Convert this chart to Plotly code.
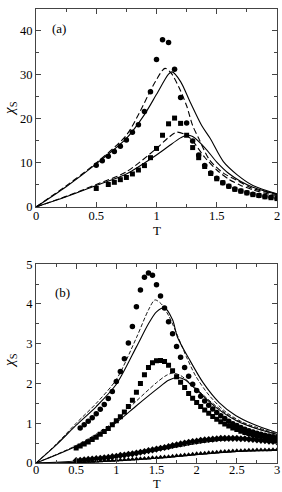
import plotly.graph_objects as go

# ---------------- Panel (a) data ----------------
Ta_circ = [0.5,0.55,0.6,0.65,0.7,0.75,0.8,0.85,0.9,0.95,1.0,1.05,1.1,1.15,1.2,1.25,1.3,1.35,1.4,1.45,
           1.5,1.55,1.6,1.65,1.7,1.75,1.8,1.85,1.9,1.95,2.0]
a_circ = [9.5,10.5,11.5,12.6,13.8,15.2,17.0,18.7,21.7,26.2,33.5,38.0,37.4,31.3,24.9,19.1,15.0,11.8,9.4,7.7,
          6.5,5.5,4.7,4.1,3.6,3.2,2.9,2.6,2.4,2.2,2.0]
Ta_sq = [0.5,0.6,0.65,0.7,0.75,0.8,0.85,0.9,0.95,1.0,1.05,1.1,1.15,1.2,1.25,1.3,1.35,1.4,1.45,
         1.5,1.55,1.6,1.65,1.7,1.75,1.8,1.85,1.9,1.95,2.0]
a_sq = [4.2,5.1,5.6,6.2,6.7,7.5,8.4,9.4,11.2,13.3,16.3,18.9,20.2,19.0,16.3,13.5,11.2,9.2,7.6,
        6.4,5.5,4.7,4.0,3.6,3.2,2.8,2.6,2.3,2.1,1.9]

Ta_up_solid = [0,0.25,0.5,0.75,0.9,1.0,1.1,1.13,1.2,1.28,1.375,1.445,1.555,1.67,1.8,2.0]
a_up_solid = [0,4.6,9.8,15.6,21.0,25.6,30.2,30.7,28.5,23.8,18.5,15.6,10.3,7.3,4.9,3.0]
Ta_up_dash = [0,0.25,0.5,0.75,0.86,0.97,1.07,1.12,1.19,1.25,1.3,1.35,1.44,1.555,1.67,1.8,2.0]
a_up_dash = [0,4.8,10.0,16.3,21.5,27.5,31.5,30.5,27.0,23.0,18.5,15.6,10.7,7.7,6.0,4.2,2.8]
Ta_lo_solid = [0,0.25,0.5,0.75,1.0,1.1,1.2,1.25,1.3,1.4,1.5,1.6,1.7,1.8,1.9,2.0]
a_lo_solid = [0,2.3,4.9,7.5,11.8,13.8,15.7,16.3,16.0,13.5,10.2,7.6,5.8,4.5,3.6,2.9]
Ta_lo_dash = [0,0.25,0.5,0.75,1.0,1.1,1.17,1.25,1.3,1.4,1.5,1.6,1.7,1.8,1.9,2.0]
a_lo_dash = [0,2.4,5.1,8.0,13.3,15.8,17.0,16.3,15.0,11.3,8.4,6.3,4.9,3.9,3.1,2.6]

# ---------------- Panel (b) data ----------------
Tb_circ = [0.55,0.6,0.65,0.7,0.75,0.8,0.85,0.9,0.95,1.0,1.05,1.1,1.15,1.2,1.25,1.3,1.35,1.4,1.45,1.5,
           1.55,1.6,1.65,1.7,1.75,1.8,1.85,1.9,1.95,2.0,2.05,2.1,2.15,2.2,2.25,2.3,2.35,2.4,2.45,2.5,
           2.55,2.6,2.65,2.7,2.75,2.8,2.85,2.9,2.95,3.0]
b_circ = [0.88,0.96,1.05,1.14,1.24,1.35,1.47,1.62,1.80,2.05,2.30,2.62,3.02,3.43,3.93,4.35,4.67,4.78,4.72,4.48,
          4.20,3.90,3.55,3.25,2.93,2.66,2.40,2.18,1.98,1.82,1.68,1.56,1.45,1.36,1.27,1.19,1.12,1.05,0.99,0.94,
          0.89,0.85,0.81,0.78,0.75,0.72,0.70,0.68,0.66,0.64]
Tb_sq = [0.5,0.55,0.6,0.65,0.7,0.75,0.8,0.85,0.9,0.95,1.0,1.05,1.1,1.15,1.2,1.25,1.3,1.35,1.4,1.45,
         1.5,1.55,1.6,1.65,1.7,1.75,1.8,1.85,1.9,1.95,2.0,2.05,2.1,2.15,2.2,2.25,2.3,2.35,2.4,2.45,
         2.5,2.55,2.6,2.65,2.7,2.75,2.8,2.85,2.9,2.95,3.0]
b_sq = [0.38,0.43,0.48,0.53,0.59,0.65,0.72,0.79,0.87,0.96,1.06,1.16,1.28,1.42,1.58,1.78,2.00,2.22,2.40,2.52,
        2.57,2.58,2.55,2.46,2.32,2.17,2.03,1.90,1.75,1.63,1.52,1.42,1.33,1.25,1.17,1.10,1.04,0.98,0.93,0.88,
        0.84,0.80,0.77,0.74,0.71,0.69,0.67,0.65,0.63,0.61,0.60]
b_dia = [0.06,0.07,0.08,0.09,0.10,0.11,0.12,0.13,0.14,0.16,0.17,0.19,0.20,0.22,0.23,0.25,0.27,0.29,0.31,0.33,
         0.35,0.37,0.39,0.41,0.44,0.46,0.48,0.50,0.52,0.54,0.55,0.57,0.58,0.59,0.60,0.61,0.62,0.62,0.62,0.62,
         0.62,0.61,0.61,0.60,0.59,0.58,0.57,0.56,0.55,0.54,0.53]
b_tri = [0.02,0.025,0.03,0.035,0.04,0.045,0.05,0.055,0.06,0.065,0.07,0.075,0.08,0.088,0.095,0.10,0.11,0.115,0.12,0.13,
         0.135,0.145,0.15,0.16,0.17,0.18,0.19,0.20,0.21,0.22,0.23,0.24,0.245,0.255,0.265,0.27,0.28,0.29,0.295,0.30,
         0.305,0.31,0.315,0.32,0.322,0.325,0.327,0.33,0.33,0.332,0.333]

Tb_up_solid = [0,0.25,0.5,0.75,1.0,1.25,1.4,1.5,1.6,1.7,1.76,1.91,2.08,2.28,2.49,2.7,3.0]
b_up_solid = [0,0.45,0.95,1.42,1.98,2.92,3.5,3.8,3.9,3.6,3.17,2.6,2.02,1.52,1.19,0.98,0.76]
Tb_up_dash = [0,0.25,0.5,0.75,1.0,1.25,1.4,1.48,1.56,1.66,1.76,1.87,1.99,2.16,2.37,2.58,3.0]
b_up_dash = [0,0.47,1.0,1.5,2.1,3.15,3.85,4.1,4.0,3.67,3.21,2.68,2.18,1.69,1.27,1.02,0.74]
Tb_lo_solid = [0,0.25,0.5,0.75,1.0,1.25,1.5,1.65,1.76,1.85,1.99,2.24,2.49,2.75,3.0]
b_lo_solid = [0,0.2,0.42,0.7,1.02,1.44,1.85,2.08,2.15,2.1,1.85,1.4,1.07,0.86,0.72]
Tb_lo_dash = [0,0.25,0.5,0.75,1.0,1.25,1.5,1.62,1.7,1.8,1.95,2.2,2.45,2.7,3.0]
b_lo_dash = [0,0.21,0.44,0.73,1.08,1.56,2.02,2.2,2.26,2.2,1.95,1.5,1.13,0.9,0.72]
Tb_3_solid = [0,0.5,1.0,1.5,2.0,2.25,2.5,2.75,3.0]
b_3_solid = [0,0.05,0.15,0.31,0.49,0.56,0.59,0.59,0.56]
Tb_4_solid = [0,0.5,1.0,1.5,2.0,2.5,3.0]
b_4_solid = [0,0.015,0.06,0.12,0.21,0.29,0.33]

Tb_all = [round(0.5 + 0.05 * i, 2) for i in range(51)]

xa_ticks = [0, 0.5, 1, 1.5, 2]
xa_text = ["0", "0.5", "1", "1.5", "2"]
ya_ticks = [0, 10, 20, 30, 40]
ya_text = ["0", "10", "20", "30", "40"]
xb_ticks = [0, 0.5, 1, 1.5, 2, 2.5, 3]
xb_text = ["0", "0.5", "1", "1.5", "2", "2.5", "3"]
yb_ticks = [0, 1, 2, 3, 4, 5]
yb_text = ["0", "1", "2", "3", "4", "5"]

FONT = "Liberation Serif, Times New Roman, serif"
AX = "#444444"

fig = go.Figure()

def mk(x, y, sym, size, xa, ya):
    fig.add_trace(go.Scatter(x=x, y=y, mode="markers", xaxis=xa, yaxis=ya,
                             marker=dict(symbol=sym, size=size, color="black", line=dict(width=0)),
                             showlegend=False, hoverinfo="skip"))

def ln(x, y, dash, xa, ya, w=1.1):
    fig.add_trace(go.Scatter(x=x, y=y, mode="lines", xaxis=xa, yaxis=ya,
                             line=dict(color="black", width=w, dash=dash, shape="spline", smoothing=0.8),
                             showlegend=False, hoverinfo="skip"))

# panel (a)
ln(Ta_up_solid, a_up_solid, "solid", "x", "y")
ln(Ta_up_dash, a_up_dash, "6px,3px", "x", "y")
ln(Ta_lo_solid, a_lo_solid, "solid", "x", "y")
ln(Ta_lo_dash, a_lo_dash, "6px,3px", "x", "y")
mk(Ta_circ, a_circ, "circle", 5.5, "x", "y")
mk(Ta_sq, a_sq, "square", 5, "x", "y")

# panel (b)
ln(Tb_up_solid, b_up_solid, "solid", "x2", "y2")
ln(Tb_up_dash, b_up_dash, "4px,2px", "x2", "y2", 0.9)
ln(Tb_lo_solid, b_lo_solid, "solid", "x2", "y2")
ln(Tb_lo_dash, b_lo_dash, "4px,2px", "x2", "y2", 0.9)
ln(Tb_3_solid, b_3_solid, "solid", "x2", "y2")
ln(Tb_4_solid, b_4_solid, "solid", "x2", "y2")
mk(Tb_circ, b_circ, "circle", 5.5, "x2", "y2")
mk(Tb_sq, b_sq, "square", 5, "x2", "y2")
mk(Tb_all, b_dia, "diamond", 5.5, "x2", "y2")
mk(Tb_all, b_tri, "triangle-up", 5, "x2", "y2")

axis_common = dict(showgrid=False, zeroline=False, showline=True, linecolor=AX, linewidth=1,
                   mirror="allticks", ticks="inside", ticklen=5, tickwidth=1, tickcolor=AX,
                   ticklabeloverflow="allow",
                   tickfont=dict(family=FONT, size=12.5, color="black"))

fig.update_layout(
    width=282, height=492,
    margin=dict(l=36, r=5, t=2, b=29),
    paper_bgcolor="white", plot_bgcolor="white",
    font=dict(family=FONT, size=13, color="black"),
    xaxis=dict(axis_common, domain=[0, 1], anchor="y", range=[0, 2],
               tickvals=xa_ticks, ticktext=xa_text,
               minor=dict(dtick=0.25, ticklen=3, tickcolor=AX, ticks="inside")),
    yaxis=dict(axis_common, domain=[0.564, 1], anchor="x", range=[0, 45],
               tickvals=ya_ticks, ticktext=ya_text,
               minor=dict(dtick=5, ticklen=3, tickcolor=AX, ticks="inside")),
    xaxis2=dict(axis_common, domain=[0, 1], anchor="y2", range=[0, 3],
                tickvals=xb_ticks, ticktext=xb_text,
                minor=dict(dtick=0.25, ticklen=3, tickcolor=AX, ticks="inside")),
    yaxis2=dict(axis_common, domain=[0, 0.438], anchor="x2", range=[0, 5],
                tickvals=yb_ticks, ticktext=yb_text,
                minor=dict(dtick=0.5, ticklen=3, tickcolor=AX, ticks="inside")),
    annotations=[
        dict(text="(a)", x=0.19, y=40.5, xref="x", yref="y", showarrow=False,
             font=dict(family=FONT, size=13)),
        dict(text="(b)", x=0.33, y=4.29, xref="x2", yref="y2", showarrow=False,
             font=dict(family=FONT, size=13)),
        dict(text="T", x=0.5, y=0.4924, xref="paper", yref="paper", showarrow=False,
             xanchor="center", yanchor="bottom", borderpad=0, font=dict(family=FONT, size=13)),
        dict(text="T", x=0.5, y=-0.0629, xref="paper", yref="paper", showarrow=False,
             xanchor="center", yanchor="bottom", borderpad=0, font=dict(family=FONT, size=12.5)),
        dict(text="<i>χ</i><sub>S</sub>", x=-0.108, y=0.782, xref="paper", yref="paper",
             showarrow=False, textangle=-90, xanchor="center", yanchor="middle",
             font=dict(family=FONT, size=15)),
        dict(text="<i>χ</i><sub>S</sub>", x=-0.108, y=0.227, xref="paper", yref="paper",
             showarrow=False, textangle=-90, xanchor="center", yanchor="middle",
             font=dict(family=FONT, size=15)),
    ],
)

# pull the x tick labels a little closer to the axis line (if supported)
try:
    fig.update_layout(xaxis_ticklabelstandoff=-3, xaxis2_ticklabelstandoff=-5)
except Exception:
    pass

fig.write_html("out.html", config={"displayModeBar": False},
               post_script="document.body.style.margin='0';document.body.style.padding='0';")
